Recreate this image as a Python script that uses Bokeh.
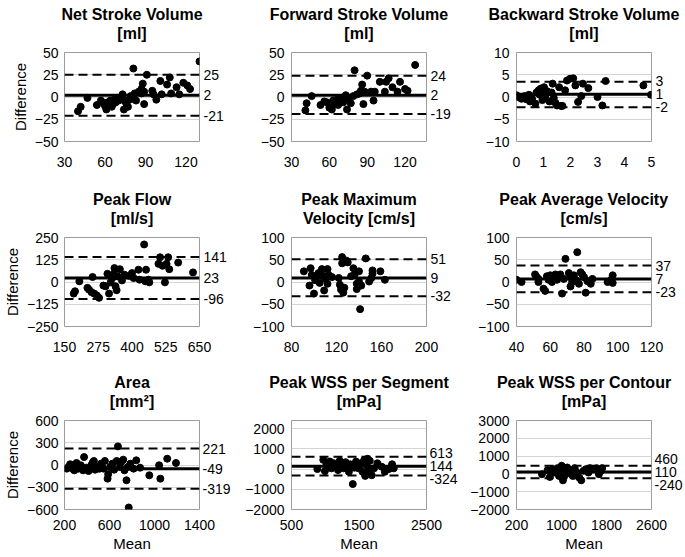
from bokeh.plotting import figure
from bokeh.layouts import gridplot
from bokeh.models import LinearAxis, FixedTicker, Span, Range1d, CustomJSTickFormatter, Title
from bokeh.embed import file_html
from bokeh.resources import INLINE

FONT = "Liberation Sans"

# ---------------- data ----------------
title_line1 = ["Net Stroke Volume", "Forward Stroke Volume", "Backward Stroke Volume",
               "Peak Flow", "Peak Maximum", "Peak Average Velocity",
               "Area", "Peak WSS per Segment", "Peak WSS per Contour"]
title_line2 = ["[ml]", "[ml]", "[ml]", "[ml/s]", "Velocity [cm/s]", "[cm/s]", "[mm²]", "[mPa]", "[mPa]"]

x_limits = [(30, 130), (30, 137), (0, 5), (150, 650), (80, 200), (40, 120), (200, 1400), (500, 2500), (200, 2600)]
x_ticks = [[30, 60, 90, 120], [30, 60, 90, 120], [0, 1, 2, 3, 4, 5], [150, 275, 400, 525, 650],
           [80, 120, 160, 200], [40, 60, 80, 100, 120], [200, 600, 1000, 1400], [500, 1500, 2500],
           [200, 1000, 1800, 2600]]
y_limits = [(-50, 50), (-50, 50), (-10, 10), (-250, 250), (-100, 100), (-100, 100), (-600, 600), (-2000, 2400), (-2000, 3000)]
y_ticks = [[-50, -25, 0, 25, 50], [-50, -25, 0, 25, 50], [-10, -5, 0, 5, 10], [-250, -125, 0, 125, 250],
           [-100, -50, 0, 50, 100], [-100, -50, 0, 50, 100], [-600, -300, 0, 300, 600],
           [-2000, -1000, 0, 1000, 2000], [-2000, -1000, 0, 1000, 2000, 3000]]

# limits of agreement: upper, bias, lower
net_sv_loa = [25, 2, -21]
fwd_sv_loa = [24, 2, -19]
bwd_sv_loa = [3.4, 0.6, -2.3]
peak_flow_loa = [141, 23, -96]
pmv_loa = [51, 9, -32]
pav_loa = [37, 7, -23]
area_loa = [221, -49, -319]
wss_seg_loa = [613, 144, -324]
wss_con_loa = [460, 110, -240]

net_sv_mean = [40, 42, 47, 54, 57, 59, 60, 61, 62, 63, 64, 65, 66, 67, 68, 69, 70, 71, 72, 73, 73, 74, 75, 76, 77, 78, 79, 81, 81, 82, 83, 85, 87, 87, 88, 89, 89, 91, 95, 96, 98, 101, 102, 106, 108, 109, 113, 115, 118, 121, 123, 130]
net_sv_diff = [-16, -11, -1, -9, -4, -7, -10, -14, -6, -7, -4, -11, -8, -3, -6, -1, -4, -2, 0, -3, 3, -14, -5, -8, -11, -3, 1, 32, -2, 4, -4, 6, 9, 4, 15, -8, 6, 25, 7, 3, -3, 18, 3, 14, 22, 4, 11, 3, 16, 13, 9, 40]

fwd_sv_mean = [41, 42, 46, 53, 56, 58, 60, 62, 63, 64, 66, 67, 69, 70, 71, 73, 74, 75, 77, 79, 80, 82, 84, 85, 86, 87, 88, 90, 93, 95, 96, 100, 104, 105, 107, 110, 114, 116, 120, 122, 128]
fwd_sv_diff = [-15, -7, 1, -9, -5, -6, -12, -14, -4, -8, -3, -9, -5, -1, -6, 2, -14, -3, -7, 1, 30, 3, 4, 7, 14, -8, 6, 24, 6, -4, 6, 17, 6, 17, 21, 11, 6, 17, 9, 7, 36]

bwd_sv_mean = [0.0, 0.06, 0.18, 0.3, 0.36, 0.46, 0.5, 0.58, 0.7, 0.74, 0.82, 0.86, 0.9, 0.96, 0.98, 1.02, 1.08, 1.14, 1.22, 1.3, 1.34, 1.38, 1.44, 1.5, 1.58, 1.65, 1.7, 1.8, 1.87, 1.98, 2.1, 2.18, 2.28, 2.4, 2.46, 2.66, 3.0, 3.18, 3.3, 4.7, 4.98]
bwd_sv_diff = [0.4, 0.0, -0.4, 0.2, -0.5, 0.5, -1.0, -0.4, -1.5, 1.0, 1.5, 0.5, 1.9, -0.7, 1.1, 2.2, 0.4, 1.3, -1.0, 1.0, 3.0, -0.2, -1.3, -1.9, 2.2, -2.0, -2.0, 1.5, 3.7, 4.1, 4.2, 2.6, -1.1, 0.2, 3.0, 2.0, 0.0, -1.9, 3.6, 2.6, 0.5]

peak_flow_mean = [184, 189, 205, 235, 241, 254, 250, 260, 270, 278, 294, 302, 309, 315, 321, 327, 333, 335, 339, 343, 348, 355, 363, 372, 388, 400, 406, 424, 428, 445, 449, 452, 461, 464, 498, 504, 513, 522, 528, 534, 538, 571, 626]
peak_flow_diff = [-65, -52, 4, -33, -43, 28, -57, -65, -76, -89, -20, -24, 46, -65, -2, 22, 46, 78, -24, -46, 31, 72, 9, 41, 35, 50, 22, 69, 13, 211, 4, 69, 13, -2, 102, 139, 91, -2, 102, 139, 72, 109, 54]

pmv_mean = [91, 97, 96, 98, 100, 101, 102, 104, 105, 107, 108, 109, 110, 112, 112, 113, 116, 122, 123, 124, 125, 125, 126, 127, 129, 130, 133, 135, 136, 138, 138, 140, 140, 141, 142, 146, 149, 151, 152, 152, 159, 163]
pmv_diff = [24, 31, -8, 16, -26, 4, 13, 20, -2, 29, 14, -19, 7, 29, -4, 16, 11, 9, -6, -17, 42, 56, -24, -13, 48, 44, 13, 31, 16, -4, -16, 24, 1, -61, -8, 53, 1, 9, 19, 26, 24, 5]

pav_mean = [40, 43, 51, 52, 53, 53, 56, 57, 58, 59, 60, 61, 62, 63, 64, 65, 66, 67, 68, 69, 71, 72, 72, 73, 74, 75, 76, 77, 78, 79, 80, 81, 82, 84, 85, 94, 96, 97, 97]
pav_diff = [5, 0, 17, 11, 0, 7, -15, -20, 13, 5, 15, 0, 11, 17, 5, 13, 17, -26, 7, 52, 20, -10, 11, 0, 15, 5, 67, -4, 22, 17, 11, -24, 2, -4, 7, 0, 5, 15, -2]

area_mean = [220, 235, 250, 264, 280, 287, 300, 307, 322, 335, 345, 365, 374, 394, 414, 438, 450, 461, 472, 496, 510, 525, 548, 559, 583, 588, 606, 626, 641, 664, 675, 693, 704, 722, 733, 751, 762, 771, 786, 814, 838, 872, 954, 1041, 1052, 1113, 1191]
area_diff = [-49, -27, 10, -4, -60, -72, -20, 27, -49, -30, -4, -72, 107, -36, -81, -4, 30, 54, -63, -27, -50, 18, -49, 54, -184, -125, -27, 18, -63, 54, 251, -27, 40, 72, -72, -206, -27, -573, 18, -49, 63, -36, -139, -4, -184, 85, 27]

wss_seg_mean = [883, 971, 995, 1019, 1068, 1092, 1126, 1165, 1189, 1214, 1238, 1272, 1301, 1320, 1350, 1369, 1408, 1432, 1456, 1495, 1529, 1553, 1578, 1592, 1612, 1626, 1641, 1660, 1689, 1723, 1772, 1835, 1883, 1942, 1990, 2015]
wss_seg_diff = [0, 456, -101, 236, 371, 34, 287, 118, -51, 405, 203, 34, 338, 118, -135, 236, -743, 68, 371, 34, 287, -135, 456, -338, 203, 506, -51, 405, -304, 34, 287, 118, -135, 0, 236, 34]

wss_con_mean = [653, 752, 793, 840, 886, 927, 956, 985, 1002, 1026, 1043, 1072, 1101, 1130, 1159, 1200, 1235, 1276, 1316, 1351, 1392, 1433, 1479, 1508, 1624, 1665, 1700, 1723]
wss_con_diff = [-19, 209, -171, 266, 76, 323, -114, 171, 456, -361, 266, -19, 361, 76, 209, -114, 323, 76, -209, -361, 171, 266, 76, 323, 323, -19, 171, 323]

means = [net_sv_mean, fwd_sv_mean, bwd_sv_mean, peak_flow_mean, pmv_mean, pav_mean, area_mean, wss_seg_mean, wss_con_mean]
diffs = [net_sv_diff, fwd_sv_diff, bwd_sv_diff, peak_flow_diff, pmv_diff, pav_diff, area_diff, wss_seg_diff, wss_con_diff]
loas = [net_sv_loa, fwd_sv_loa, bwd_sv_loa, peak_flow_loa, pmv_loa, pav_loa, area_loa, wss_seg_loa, wss_con_loa]

# ---------------- layout ----------------
FRAME_W, FRAME_H = 135, 89
LEFT = [59, 58, 56]
RIGHT = [32, 32, 32]
TOP = 52
BOTTOM = [44, 42, 47]
X_STANDOFF = [15, 15, 10]
LABEL_GAP = 13.0
DIGIT_W, MINUS_W = 7.8, 4.7


def spread(values, lo, hi):
    scale = FRAME_H / (hi - lo)
    px = [(v - lo) * scale for v in values]  # descending order
    for _ in range(200):
        for k in range(len(px) - 1):
            gap = px[k] - px[k + 1]
            if gap < LABEL_GAP:
                d = (LABEL_GAP - gap) / 2.0
                px[k] += d
                px[k + 1] -= d
    return [lo + q / scale for q in px]


def text_w(s):
    return sum(MINUS_W if ch == "-" else DIGIT_W for ch in s)


def make_title(text, standoff):
    return Title(text=text, align="center", text_font=FONT, text_font_size="16px",
                 text_font_style="bold", text_color="black", standoff=standoff)


def make_panel(i):
    row, col = divmod(i, 3)
    p = figure(frame_width=FRAME_W, frame_height=FRAME_H,
               x_range=Range1d(*x_limits[i]), y_range=Range1d(*y_limits[i]),
               output_backend="svg", toolbar_location=None, title_location=None,
               min_border_left=LEFT[col], min_border_right=RIGHT[col],
               min_border_top=TOP, min_border_bottom=BOTTOM[row],
               background_fill_color="white", border_fill_color="white")
    # blank spacer between the frame and the two title lines
    p.add_layout(Title(text=" ", text_font=FONT, text_font_size="8px", text_color="white", standoff=0), "above")
    p.add_layout(make_title(title_line2[i], 0), "above")
    p.add_layout(make_title(title_line1[i], 0), "above")

    p.outline_line_color = "#9c9c9c"
    p.outline_line_width = 1
    p.xgrid.visible = False
    p.ygrid.ticker = FixedTicker(ticks=y_ticks[i])
    p.ygrid.grid_line_color = "#d4d4d4"
    p.ygrid.grid_line_width = 1

    for ax, tk in ((p.xaxis[0], x_ticks[i]), (p.yaxis[0], y_ticks[i])):
        ax.ticker = FixedTicker(ticks=tk)
        ax.axis_line_color = None
        ax.major_tick_line_color = None
        ax.minor_tick_line_color = None
        ax.major_tick_out = 0
        ax.major_tick_in = 0
        ax.major_label_text_font = FONT
        ax.major_label_text_font_size = "14px"
        ax.major_label_text_color = "black"
        ax.axis_label_text_font = FONT
        ax.axis_label_text_font_size = "15px"
        ax.axis_label_text_font_style = "normal"
        ax.axis_label_text_color = "black"
    p.xaxis.major_label_standoff = X_STANDOFF[row]
    p.yaxis.major_label_standoff = 7
    if col == 0:
        p.yaxis.major_label_standoff = 6
        p.yaxis.axis_label = "Difference"
        p.yaxis.axis_label_standoff = 3
    if row == 2:
        p.xaxis.axis_label = "Mean"
        p.xaxis.axis_label_standoff = 2

    upper, bias, lower = loas[i]
    p.add_layout(Span(location=upper, dimension="width", line_color="black", line_width=2, line_dash="9 5"))
    p.add_layout(Span(location=lower, dimension="width", line_color="black", line_width=2, line_dash="9 5"))
    p.add_layout(Span(location=bias, dimension="width", line_color="black", line_width=3))

    p.scatter(means[i], diffs[i], size=7, color="black")

    pos = spread([upper, bias, lower], *y_limits[i])
    labels = ["%d" % round(v) for v in (upper, bias, lower)]
    widest = max(text_w(s) for s in labels)
    standoff = 4 if widest <= 24 else 3
    rax = LinearAxis(ticker=FixedTicker(ticks=pos[::-1]),
                     formatter=CustomJSTickFormatter(args=dict(labels=labels[::-1]), code="return labels[index];"))
    rax.axis_line_color = None
    rax.major_tick_line_color = None
    rax.minor_tick_line_color = None
    rax.major_tick_out = 0
    rax.major_tick_in = 0
    rax.major_label_standoff = standoff
    rax.major_label_text_font = FONT
    rax.major_label_text_font_size = "14px"
    rax.major_label_text_color = "black"
    p.add_layout(rax, "right")
    return p


panels = [make_panel(i) for i in range(9)]
grid = gridplot([panels[0:3], panels[3:6], panels[6:9]], toolbar_location=None)

open("out.html", "w").write(file_html(grid, INLINE))
